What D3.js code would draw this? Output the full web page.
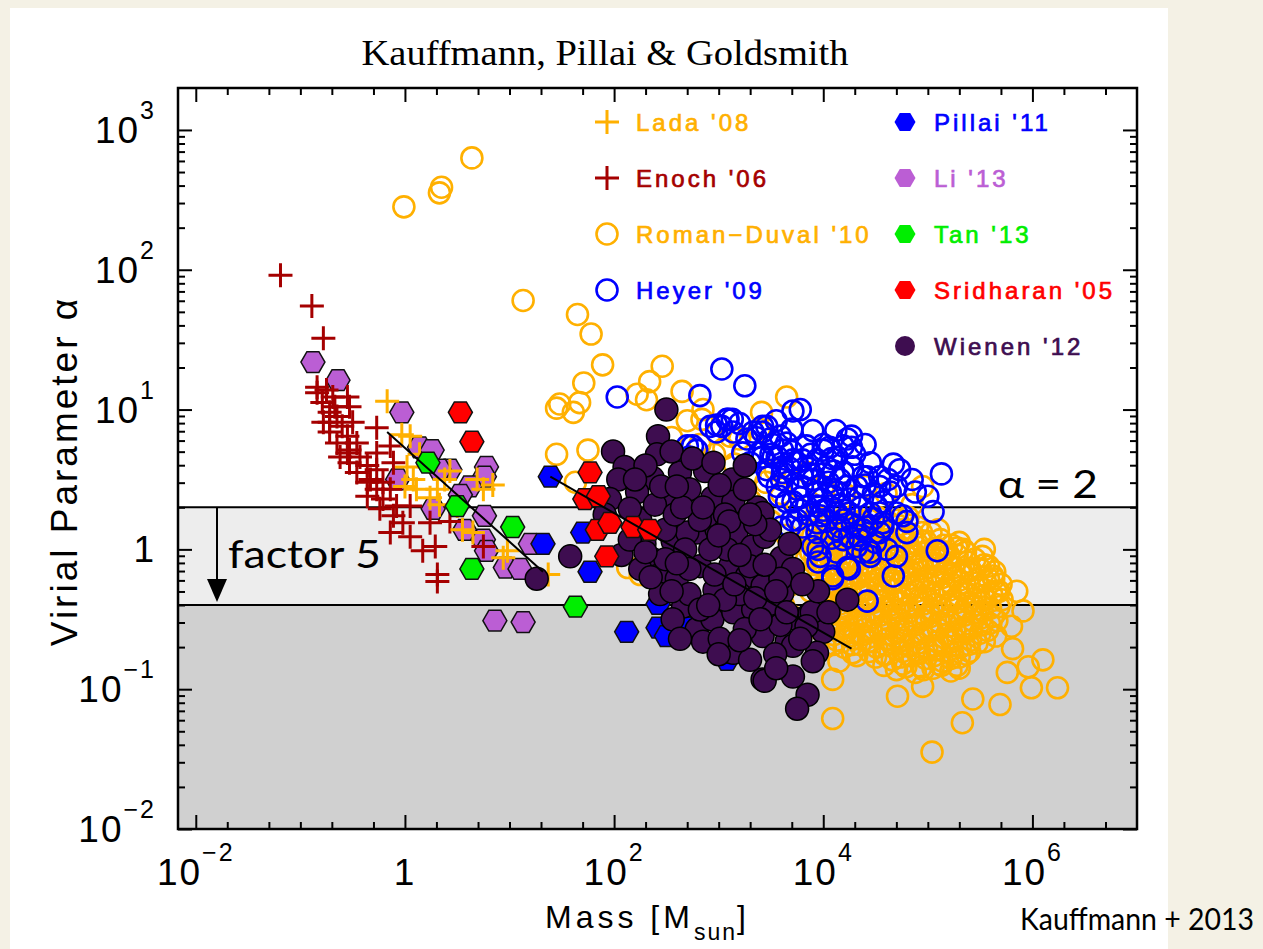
<!DOCTYPE html>
<html lang="en">
<head>
<meta charset="utf-8">
<title>Virial parameter vs mass</title>
<script src="https://d3js.org/d3.v7.min.js"></script>
<style>
  body { margin: 0; background: #f4f1e5; }
  svg { display: block; }
</style>
</head>
<body>
<svg id="chart" width="1263" height="949"></svg>
<script>
// all points are [log10 mass, log10 alpha]

const romanDuval = [
  [-0.01,2.45],[0.33,2.55],[0.35,2.59],[0.64,2.80],[1.13,1.78],[1.65,1.68],[1.78,1.54],[1.89,1.32],
  [1.71,1.19],[2.46,1.31],[2.34,1.20],[2.65,1.13],[1.48,1.04],[1.67,1.05],[2.22,1.11],[2.31,1.07],
  [1.45,1.01],[1.61,0.98],[1.45,0.68],[1.63,0.48],[1.75,0.71],[3.65,1.09],[3.41,0.98],[2.84,0.93],
  [2.85,1.00],[3.11,0.81],[2.63,0.31],[2.13,-0.13],[2.25,-0.18],[2.82,0.75],[2.96,0.68],[3.20,0.79],
  [3.39,0.86],[3.54,0.57],[3.30,0.54],[3.15,0.61],[2.55,0.80],[2.70,0.92],[3.05,0.72],[3.45,0.48],
  [3.60,0.40],[3.75,0.30],[3.30,0.35],[3.50,0.20],[3.65,0.10],[3.80,-0.05],[3.70,-0.25],[3.62,-0.40],
  [3.80,-0.35],[3.85,-0.20],[3.90,0.10],[4.60,0.40],[4.85,0.32],[4.40,0.45],[4.20,0.40],[4.00,0.45],
  [3.85,0.55],[4.95,0.45],
  [3.95,0.23],[4.12,0.20],[4.29,0.24],[4.44,0.21],[4.63,0.19],[4.81,0.23],
  [4.03,0.21],[4.20,0.22],[4.36,0.20],[4.52,0.23],[4.71,0.21],
  [4.04,0.17],[4.20,0.16],[4.37,0.18],[4.54,0.15],[4.72,0.17],[4.90,0.16],
  [3.95,0.14],[4.11,0.12],[4.27,0.15],[4.43,0.13],[4.59,0.11],[4.76,0.14],[4.94,0.12],[5.10,0.14],
  [3.87,0.12],[4.03,0.10],[4.19,0.13],[4.35,0.11],[4.51,0.09],[4.67,0.13],[4.86,0.10],[5.03,0.12],
  [3.96,0.07],[4.12,0.08],[4.28,0.06],[4.44,0.08],[4.60,0.07],[4.77,0.09],[4.94,0.06],[5.12,0.07],
  [4.00,0.05],[4.16,0.06],[4.32,0.03],[4.49,0.05],[4.64,0.07],[4.81,0.04],[4.98,0.06],[5.15,0.03],[5.30,0.05],
  [3.92,0.02],[4.08,0.04],[4.24,0.01],[4.41,0.03],[4.56,0.05],[4.73,0.02],[4.90,0.04],[5.07,0.01],[5.23,0.03],
  [3.88,-0.02],[4.04,-0.01],[4.20,-0.03],[4.36,-0.01],[4.52,-0.02],[4.68,0.00],[4.85,-0.03],[5.01,-0.01],
  [5.17,-0.02],[5.34,0.00],
  [3.92,-0.05],[4.08,-0.03],[4.24,-0.06],[4.39,-0.04],[4.55,-0.02],[4.71,-0.05],[4.87,-0.03],[5.03,-0.06],
  [5.20,-0.04],[5.36,-0.02],[5.52,-0.05],
  [3.84,-0.07],[4.00,-0.05],[4.16,-0.08],[4.31,-0.06],[4.47,-0.04],[4.63,-0.07],[4.79,-0.05],[4.95,-0.08],
  [5.12,-0.06],[5.28,-0.04],[5.45,-0.07],
  [3.93,-0.11],[4.09,-0.10],[4.25,-0.12],[4.41,-0.10],[4.57,-0.11],[4.73,-0.09],[4.89,-0.12],[5.05,-0.10],
  [5.21,-0.11],[5.38,-0.09],[5.54,-0.11],
  [3.98,-0.12],[4.14,-0.14],[4.29,-0.11],[4.45,-0.13],[4.60,-0.15],[4.77,-0.12],[4.92,-0.14],[5.08,-0.11],
  [5.25,-0.13],[5.41,-0.15],[5.58,-0.12],
  [3.90,-0.14],[4.06,-0.16],[4.21,-0.13],[4.37,-0.15],[4.52,-0.17],[4.69,-0.14],[4.84,-0.16],[5.00,-0.13],
  [5.17,-0.15],[5.33,-0.17],[5.50,-0.14],[5.64,-0.16],
  [3.98,-0.20],[4.14,-0.19],[4.30,-0.21],[4.46,-0.19],[4.62,-0.20],[4.78,-0.18],[4.94,-0.21],[5.10,-0.19],
  [5.26,-0.20],[5.42,-0.18],[5.58,-0.21],
  [4.04,-0.21],[4.19,-0.23],[4.35,-0.20],[4.51,-0.22],[4.67,-0.24],[4.82,-0.21],[4.98,-0.23],[5.14,-0.20],
  [5.30,-0.22],[5.47,-0.24],[5.63,-0.21],
  [3.96,-0.23],[4.11,-0.25],[4.27,-0.22],[4.43,-0.24],[4.59,-0.26],[4.74,-0.23],[4.90,-0.25],[5.06,-0.22],
  [5.22,-0.24],[5.39,-0.26],[5.55,-0.23],[5.70,-0.25],
  [3.96,-0.28],[4.10,-0.30],[4.26,-0.32],[4.42,-0.29],[4.58,-0.31],[4.74,-0.33],[4.89,-0.30],[5.05,-0.32],
  [5.21,-0.29],[5.37,-0.31],[5.53,-0.33],[5.68,-0.30],
  [4.05,-0.29],[4.21,-0.28],[4.37,-0.30],[4.53,-0.28],[4.69,-0.29],[4.85,-0.27],[5.01,-0.30],[5.17,-0.28],
  [5.33,-0.29],[5.49,-0.27],[5.65,-0.30],
  [3.88,-0.30],[4.02,-0.32],[4.18,-0.34],[4.34,-0.31],[4.50,-0.33],[4.66,-0.35],[4.81,-0.32],[4.97,-0.34],
  [5.13,-0.31],[5.29,-0.33],[5.45,-0.35],[5.61,-0.32],
  [4.11,-0.38],[4.27,-0.37],[4.43,-0.39],[4.59,-0.37],[4.75,-0.38],[4.91,-0.36],[5.07,-0.39],[5.23,-0.37],
  [5.39,-0.38],[5.55,-0.36],
  [4.00,-0.43],[4.16,-0.39],[4.32,-0.41],[4.48,-0.38],[4.64,-0.40],[4.80,-0.42],[4.96,-0.39],[5.12,-0.41],
  [5.28,-0.38],[5.44,-0.40],[5.60,-0.42],
  [3.92,-0.45],[4.08,-0.41],[4.24,-0.43],[4.40,-0.40],[4.56,-0.42],[4.72,-0.44],[4.88,-0.41],[5.04,-0.43],
  [5.20,-0.40],[5.36,-0.42],[5.52,-0.44],[5.68,-0.41],
  [4.02,-0.47],[4.18,-0.46],[4.34,-0.48],[4.50,-0.46],[4.66,-0.47],[4.82,-0.45],[4.98,-0.48],[5.14,-0.46],
  [5.30,-0.47],[5.46,-0.45],[5.62,-0.48],
  [4.06,-0.54],[4.23,-0.48],[4.39,-0.50],[4.55,-0.47],[4.71,-0.49],[4.87,-0.51],[5.03,-0.48],[5.19,-0.50],
  [5.35,-0.47],[5.51,-0.49],[5.66,-0.51],
  [3.98,-0.58],[4.15,-0.50],[4.31,-0.52],[4.47,-0.49],[4.63,-0.51],[4.79,-0.53],[4.95,-0.50],[5.11,-0.52],
  [5.27,-0.49],[5.43,-0.51],[5.59,-0.53],
  [4.07,-0.56],[4.24,-0.55],[4.40,-0.57],[4.56,-0.55],[4.72,-0.56],[4.88,-0.54],[5.04,-0.57],[5.20,-0.55],
  [5.36,-0.56],[5.52,-0.54],
  [4.16,-0.57],[4.30,-0.60],[4.46,-0.59],[4.62,-0.56],[4.78,-0.58],[4.94,-0.60],[5.10,-0.57],[5.26,-0.59],
  [5.42,-0.56],[5.57,-0.58],
  [4.10,-0.61],[4.22,-0.59],[4.38,-0.61],[4.54,-0.58],[4.70,-0.60],[4.86,-0.62],[5.02,-0.59],[5.18,-0.61],
  [5.34,-0.58],[5.50,-0.60],
  [4.13,-0.65],[4.29,-0.64],[4.45,-0.66],[4.61,-0.64],[4.77,-0.65],[4.93,-0.63],[5.09,-0.66],[5.25,-0.64],
  [5.41,-0.65],
  [4.10,-0.68],[4.28,-0.68],[4.43,-0.66],[4.59,-0.68],[4.75,-0.65],[4.91,-0.67],[5.07,-0.69],[5.23,-0.66],
  [5.39,-0.68],[5.54,-0.66],
  [4.02,-0.70],[4.20,-0.70],[4.35,-0.68],[4.51,-0.70],[4.67,-0.67],[4.83,-0.69],[4.99,-0.71],[5.15,-0.68],
  [5.31,-0.70],[5.47,-0.67],
  [4.28,-0.74],[4.44,-0.73],[4.60,-0.75],[4.76,-0.73],[4.92,-0.74],[5.08,-0.72],[5.24,-0.75],[5.40,-0.73],
  [4.58,-0.75],[4.74,-0.77],[4.90,-0.74],[5.06,-0.76],[5.22,-0.78],[5.37,-0.75],
  [4.15,-0.80],[4.50,-0.77],[4.66,-0.79],[4.82,-0.76],[4.98,-0.78],[5.14,-0.80],[5.30,-0.77],
  [4.58,-0.83],[4.76,-0.82],[4.94,-0.84],[5.11,-0.82],[5.28,-0.83],
  [4.79,-0.84],[4.96,-0.86],[5.13,-0.83],[5.30,-0.85],
  [4.70,-0.86],[4.88,-0.88],[5.05,-0.85],[5.22,-0.87],
  [4.32,-0.76],[4.09,-0.93],[4.09,-1.21],[4.71,-1.05],[4.95,-0.98],[5.04,-1.45],[5.33,-1.24],[5.43,-1.07],
  [5.69,-1.11],[5.81,-0.71],[5.96,-0.84],[5.99,-0.99],[5.76,-0.88],[5.62,-0.19],[5.71,-0.36],[5.28,0.01],
  [5.14,-0.02],[6.24,-0.99],[6.10,-0.79],[5.91,-0.44],[5.54,0.00],[5.80,-0.55],[5.65,-0.62],[5.85,-0.30]
];

const heyer = [
  [2.03,1.09],[2.82,1.10],[3.03,1.29],[3.25,1.17],[3.71,0.99],[3.78,1.00],[3.09,0.93],[2.98,0.89],
  [2.75,0.74],[4.27,0.81],[4.27,0.73],[4.67,0.61],[4.73,0.57],[5.13,0.54],[4.88,0.41],[4.64,0.41],
  [5.05,0.27],[4.80,0.20],[4.80,0.12],[4.70,-0.05],[4.67,-0.19],[5.09,-0.01],[3.95,0.00],[3.95,-0.09],
  [4.09,-0.21],[4.23,-0.13],[4.38,-0.02],[4.42,-0.37],[4.45,-0.02],[4.35,0.07],[3.70,0.21],[3.80,0.16],
  [3.60,0.16],[4.13,0.26],[4.54,0.26],[4.57,0.19],
  [3.03,0.88],[3.13,0.93],[2.98,0.84],[3.33,0.84],[3.42,0.88],[3.27,0.79],[3.49,0.79],[3.65,0.76],
  [3.84,0.74],[4.06,0.73],[3.39,0.69],[3.56,0.66],[3.71,0.64],[3.94,0.64],[4.13,0.66],[3.46,0.57],
  [3.61,0.55],[3.80,0.52],[4.00,0.54],[4.19,0.55],[4.42,0.52],[3.56,0.45],[3.75,0.43],[3.94,0.41],
  [4.13,0.41],[4.32,0.45],[4.54,0.45],[3.65,0.34],[3.84,0.31],[4.06,0.31],[4.25,0.26],[4.45,0.26],
  [4.57,0.34],[3.75,0.21],[3.94,0.19],[4.13,0.14],[4.38,0.14],[4.57,0.16],[4.76,0.24],[2.79,0.71],
  [2.72,0.66],[2.92,0.88],[3.61,0.71],
  [3.46,0.88],[3.59,0.81],[4.00,0.75],[4.19,0.74],[3.52,0.66],[3.75,0.62],[4.03,0.59],[4.28,0.59],
  [4.54,0.52],[3.60,0.50],[3.80,0.45],[4.09,0.43],[4.35,0.38],[4.51,0.31],[4.70,0.26],[3.71,0.34],
  [3.94,0.31],[4.19,0.21],[4.42,0.16],[4.54,0.12],[3.68,0.16],[3.94,0.12],[4.19,0.07],[4.32,0.02],
  [4.45,-0.05],[4.13,-0.02],[4.25,-0.14],[4.61,0.00],
  [2.70,0.74],[3.08,0.93],[3.14,0.84],[3.42,0.84],[3.23,0.69],[3.42,0.66],[3.61,0.59],[3.80,0.64],
  [4.00,0.71],[4.23,0.79],[3.94,0.45],[4.16,0.50],[4.25,0.36],[3.97,0.24],[4.16,0.16],[3.90,0.02],
  [3.97,-0.05],[4.25,0.09],[4.09,-0.19],
  [3.36,0.80],[3.52,0.75],[3.70,0.70],[3.88,0.68],[4.08,0.65],[3.30,0.62],[3.48,0.52],[3.66,0.48],
  [3.86,0.58],[4.05,0.48],[4.22,0.45],[4.40,0.46],[3.58,0.38],[3.78,0.37],[3.99,0.36],[4.16,0.32],
  [4.36,0.30],[4.48,0.40],[3.86,0.25],[4.03,0.20],[4.28,0.18],[4.48,0.22],[4.08,0.08],[4.33,0.10],
  [4.50,0.05],[3.90,0.50],[4.30,0.68],[4.45,0.62],[4.62,0.50],[4.70,0.45],[3.20,0.90],[3.55,0.92],
  [3.90,0.85],[4.12,0.85],[4.40,0.75],[4.85,0.50],[5.00,0.38],
  [3.68,0.58],[3.88,0.54],[4.10,0.56],[3.78,0.28],[4.00,0.28],[4.20,0.28],[3.50,0.68],[3.70,0.86],
  [4.10,0.38],[4.38,0.52]
];

const pillai = [
  [1.39,0.52],[1.32,0.04],[1.70,0.12],[1.77,-0.16],[2.12,-0.59],[2.42,-0.39],[2.42,-0.56],[2.50,-0.62],
  [3.08,-0.79],[3.03,-0.74],[2.72,-0.56]
];

const li = [
  [-0.88,1.34],[-0.64,1.21],[-0.03,0.98],[0.14,0.73],[0.26,0.71],[0.43,0.57],[0.78,0.59],[0.76,0.52],
  [-0.07,0.50],[0.62,0.45],[0.27,0.29],[0.76,0.24],[0.57,0.14],[0.75,0.07],[0.78,-0.01],[1.20,0.04],
  [0.96,-0.13],[1.10,-0.14],[0.86,-0.51],[1.13,-0.52],[0.33,0.57],[0.53,0.39]
];

const enoch = [
  [-1.19,1.96],[-0.89,1.74],[-0.78,1.51],[-0.84,1.16],[-0.75,1.14],[-0.55,1.09],[-0.79,1.05],[-0.67,1.02],
  [-0.53,1.02],[-0.72,0.98],[-0.78,0.91],[-0.65,0.95],[-0.60,0.88],[-0.72,0.84],[-0.55,0.81],[-0.65,0.76],
  [-0.46,0.76],[-0.27,0.87],[-0.55,0.69],[-0.43,0.66],[-0.53,0.62],[-0.36,0.60],[-0.27,0.69],[-0.11,0.62],
  [-0.46,0.55],[-0.33,0.50],[-0.21,0.48],[-0.27,0.43],[-0.36,0.38],[-0.21,0.36],[-0.14,0.43],[0.05,0.31],
  [-0.24,0.29],[-0.11,0.24],[-0.02,0.19],[0.24,0.19],[-0.14,0.12],[0.05,0.09],[0.29,0.02],[0.17,-0.01],
  [0.31,-0.18],[0.31,-0.23],[0.75,0.02],[0.43,0.20],[-0.53,0.71],[-0.69,1.09],[-0.62,0.66],[-0.14,0.74],
  [-0.50,0.91],[-0.36,0.48],[-0.08,0.31],[-0.27,0.57],[-0.72,0.91],[-0.84,1.12]
];

const lada = [
  [-0.17,1.06],[-0.03,0.82],[0.05,0.81],[0.02,0.59],[0.08,0.50],[0.00,0.45],[0.11,0.43],[0.24,0.37],
  [0.31,0.43],[0.38,0.50],[0.43,0.56],[0.50,0.31],[0.55,0.14],[0.65,0.12],[0.75,0.43],[0.84,0.46],
  [0.69,0.50],[0.98,-0.01],[0.94,-0.06],[1.37,-0.18],[0.14,0.68],[0.33,0.32]
];

const tan = [[0.22,0.62],[0.50,0.31],[1.03,0.16],[0.64,-0.14],[1.63,-0.41]];

const wienen = [
  [2.50,1.00],[2.42,0.81],[2.41,0.68],[1.99,0.70],[2.10,0.59],[2.04,0.50],[2.37,0.51],[2.63,0.55],
  [2.87,0.56],[3.13,0.50],[2.22,0.41],[2.53,0.36],[2.94,0.37],[3.14,0.34],[3.37,0.30],[1.58,-0.05],
  [1.26,-0.21],[2.07,-0.04],[2.37,-0.07],[2.56,0.06],[2.79,0.12],[2.98,0.14],[3.17,0.12],[3.32,0.02],
  [3.60,-0.06],[3.71,-0.14],[2.41,-0.19],[2.60,-0.21],[2.82,-0.12],[3.11,-0.12],[3.27,-0.19],[3.42,-0.26],
  [3.61,-0.31],[2.66,-0.41],[2.56,-0.50],[2.79,-0.57],[2.94,-0.50],[3.14,-0.45],[3.33,-0.43],[3.52,-0.49],
  [3.75,-0.50],[3.87,-0.46],[4.00,-0.59],[3.94,-0.74],[3.65,-0.66],[3.42,-0.62],[3.14,-0.74],[2.85,-0.66],
  [3.42,-0.93],[3.71,-0.91],[3.85,-1.04],[3.75,-1.14],[4.23,-0.36],
  [3.42,0.26],[3.44,0.09],[3.59,-0.21],[3.89,-0.45],[3.84,-0.55],[3.71,-0.69],[3.44,-0.94],
  [2.89,0.24],[2.70,0.12],[3.08,0.00],[3.30,-0.12],
  [2.25,0.21],[2.39,0.32],[2.72,0.43],[3.01,0.46],[3.25,0.43],[2.49,0.14],[2.68,0.00],[2.92,0.00],
  [3.20,-0.04],[3.44,-0.11],[2.44,-0.32],[2.72,-0.32],[2.96,-0.29],[3.20,-0.32],[3.49,-0.39],[3.01,-0.64],
  [3.25,-0.57],[3.59,-0.54],[2.82,-0.43],[2.29,0.04],[2.25,-0.14],[2.15,0.07],[1.96,0.36],[1.91,0.25],
  [2.15,0.29],[3.78,-0.64],[3.54,-0.75],[3.30,-0.79],[2.63,-0.64],[3.49,0.14],[3.68,0.04],[3.35,0.18],
  [2.82,0.21],[3.06,0.25],[2.58,0.25],[2.49,-0.07],[3.06,-0.36],[2.72,-0.14],[2.96,-0.18],
  [2.30,0.60],[2.55,0.70],[2.75,0.65],[2.95,0.62],[3.25,0.60],[2.45,0.45],[2.65,0.30],[2.85,0.30],
  [3.10,0.20],[3.30,0.25],[2.35,-0.20],[2.55,-0.30],[2.90,-0.40],[3.15,-0.25],[3.35,-0.35],[3.55,-0.30],
  [3.65,-0.45],[3.40,-0.50],[3.20,-0.65],[3.00,-0.75],[3.55,-0.85],[3.90,-0.80],[3.95,-0.30],[2.60,0.45],
  [2.20,0.50],[2.30,-0.02],[2.60,-0.10],[3.00,0.10],[3.80,-0.25],[4.05,-0.45]
];

const sridharan = [
  [0.53,0.98],[0.64,0.77],[1.77,0.55],[1.72,0.36],[1.85,0.38],[1.84,0.14],[1.96,0.19],[2.18,0.16],
  [2.34,0.14],[1.93,-0.05]
];

// fitted relations drawn as black lines
const fitSmall = [[-0.17,0.84],[1.32,-0.16]];
const fitLarge = [[1.39,0.52],[4.27,-0.71]];

const alphaLevels = [2, 0.4];

const legendNames = ["Lada '08", "Enoch '06", "Roman\u2212Duval '10", "Heyer '09",
                     "Pillai '11", "Li '13", "Tan '13", "Sridharan '05", "Wienen '12"];

const xMajor = [1e-2, 1, 1e2, 1e4, 1e6];
const xLabels = [["10", "\u22122"], ["1", ""], ["10", "2"], ["10", "4"], ["10", "6"]];
const yMajor = [1e-2, 1e-1, 1, 1e1, 1e2, 1e3];
const yLabels = [["10", "\u22122"], ["10", "\u22121"], ["1", ""], ["10", "1"], ["10", "2"], ["10", "3"]];

// ---------------------------------------------------------------

const col = {
  orange: "#ffb000", darkred: "#a50000", blue: "#0000ff", orchid: "#bb5ed4",
  green: "#00ee00", red: "#ff0000", purple: "#3e0d50"
};

const svg = d3.select("#chart");
const L = 178, R = 1137, T = 88, B = 829;

const x = d3.scaleLog().domain([Math.pow(10, -2.17), 1e7]).range([L, R]);
const y = d3.scaleLog().domain([0.01, Math.pow(10, 3.3)]).range([B, T]);

const toPts = arr => arr.map(d => ({ m: Math.pow(10, d[0]), a: Math.pow(10, d[1]) }));

svg.append("rect").attr("width", 1263).attr("height", 949).attr("fill", "#f4f1e5");
svg.append("rect").attr("x", 10).attr("y", 8).attr("width", 1158).attr("height", 941).attr("fill", "#fff");

svg.append("defs").append("clipPath").attr("id", "plotclip")
  .append("rect").attr("x", L).attr("y", T).attr("width", R - L).attr("height", B - T);

const plot = svg.append("g").attr("clip-path", "url(#plotclip)");

// shaded bands
plot.append("rect").attr("x", L).attr("width", R - L)
  .attr("y", y(alphaLevels[0])).attr("height", y(alphaLevels[1]) - y(alphaLevels[0]))
  .attr("fill", "#ededed");
plot.append("rect").attr("x", L).attr("width", R - L)
  .attr("y", y(alphaLevels[1])).attr("height", B - y(alphaLevels[1]))
  .attr("fill", "#d0d0d0");

plot.selectAll(".level").data(alphaLevels).enter().append("line")
  .attr("x1", L).attr("x2", R)
  .attr("y1", d => y(d)).attr("y2", d => y(d))
  .attr("stroke", "#000").attr("stroke-width", 2);

const hexPath = r => {
  const h = r * Math.sqrt(3) / 2;
  return `M${r},0L${r / 2},${h}L${-r / 2},${h}L${-r},0L${-r / 2},${-h}L${r / 2},${-h}Z`;
};
const plusPath = s => `M${-s},0H${s}M0,${-s}V${s}`;

function openCircles(data, color) {
  plot.append("g").selectAll("circle").data(toPts(data)).enter().append("circle")
    .attr("cx", d => x(d.m)).attr("cy", d => y(d.a)).attr("r", 10.5)
    .attr("fill", "none").attr("stroke", color).attr("stroke-width", 2.6);
}
function pluses(data, color) {
  plot.append("g").selectAll("path").data(toPts(data)).enter().append("path")
    .attr("transform", d => `translate(${x(d.m)},${y(d.a)})`)
    .attr("d", plusPath(12)).attr("stroke", color).attr("stroke-width", 3).attr("fill", "none");
}
function hexes(data, color) {
  plot.append("g").selectAll("path").data(toPts(data)).enter().append("path")
    .attr("transform", d => `translate(${x(d.m)},${y(d.a)})`)
    .attr("d", hexPath(12)).attr("fill", color).attr("stroke", "#111").attr("stroke-width", 1.5);
}
function dots(data, color) {
  plot.append("g").selectAll("circle").data(toPts(data)).enter().append("circle")
    .attr("cx", d => x(d.m)).attr("cy", d => y(d.a)).attr("r", 11.5)
    .attr("fill", color).attr("stroke", "#000").attr("stroke-width", 1.5);
}

openCircles(romanDuval, col.orange);
openCircles(heyer, col.blue);
hexes(li, col.orchid);
pluses(enoch, col.darkred);
pluses(lada, col.orange);
hexes(pillai, col.blue);
hexes(tan, col.green);
dots(wienen, col.purple);
hexes(sridharan, col.red);

const line = d3.line().x(d => x(Math.pow(10, d[0]))).y(d => y(Math.pow(10, d[1])));
[fitSmall, fitLarge].forEach(f => {
  plot.append("path").attr("d", line(f)).attr("stroke", "#000").attr("stroke-width", 2).attr("fill", "none");
});

// axes: inward ticks on all four sides
const minorX = [];
for (let e = -3; e <= 6; e++) {
  [2, 5].forEach(k => minorX.push(k * Math.pow(10, e)));
  if (e % 2 !== 0) minorX.push(Math.pow(10, e));
}
const xMin = minorX.filter(v => v > x.domain()[0] && v < x.domain()[1]);
const yMin = [];
for (let e = -2; e <= 3; e++) for (let k = 2; k <= 9; k++) yMin.push(k * Math.pow(10, e));
const yMinor = yMin.filter(v => v < y.domain()[1]);

function tickGroup(axis, transform) {
  const g = svg.append("g").attr("transform", transform).call(axis);
  g.select(".domain").remove();
  g.selectAll("line").attr("stroke", "#000").attr("stroke-width", 2);
  g.selectAll("text").remove();
}
tickGroup(d3.axisBottom(x).tickValues(xMajor).tickSize(-14).tickFormat(""), `translate(0,${B})`);
tickGroup(d3.axisBottom(x).tickValues(xMin).tickSize(-7).tickFormat(""), `translate(0,${B})`);
tickGroup(d3.axisTop(x).tickValues(xMajor).tickSize(-14).tickFormat(""), `translate(0,${T})`);
tickGroup(d3.axisTop(x).tickValues(xMin).tickSize(-7).tickFormat(""), `translate(0,${T})`);
tickGroup(d3.axisLeft(y).tickValues(yMajor).tickSize(-14).tickFormat(""), `translate(${L},0)`);
tickGroup(d3.axisLeft(y).tickValues(yMinor).tickSize(-7).tickFormat(""), `translate(${L},0)`);
tickGroup(d3.axisRight(y).tickValues(yMajor).tickSize(-14).tickFormat(""), `translate(${R},0)`);
tickGroup(d3.axisRight(y).tickValues(yMinor).tickSize(-7).tickFormat(""), `translate(${R},0)`);

svg.append("rect").attr("x", L).attr("y", T).attr("width", R - L).attr("height", B - T)
  .attr("fill", "none").attr("stroke", "#000").attr("stroke-width", 2.5);

const sans = "'Liberation Sans', Arial, Helvetica, sans-serif";

function powLabel(g, lab, px, py, anchor) {
  const t = g.append("text").attr("x", px).attr("y", py).attr("text-anchor", anchor)
    .attr("font-family", sans).attr("font-size", 37).attr("letter-spacing", 2).attr("fill", "#000");
  t.append("tspan").text(lab[0]);
  if (lab[1]) t.append("tspan").attr("dy", -24).attr("font-size", 25).text(lab[1]);
}
const labs = svg.append("g");
xMajor.forEach((v, i) => powLabel(labs, xLabels[i], x(v), 885, "middle"));
yMajor.forEach((v, i) => powLabel(labs, yLabels[i], 156, y(v) + 13, "end"));

svg.append("text").attr("transform", "translate(77,471) rotate(-90)")
  .attr("text-anchor", "middle").attr("font-family", sans).attr("font-size", 37)
  .attr("letter-spacing", 3).text("Virial Parameter \u03b1");

const xt = svg.append("text").attr("x", 545).attr("y", 928)
  .attr("font-family", sans).attr("font-size", 32).attr("letter-spacing", 4)
  .attr("xml:space", "preserve");
xt.append("tspan").text("Mass [M");
xt.append("tspan").attr("dy", 12).attr("font-size", 23).attr("letter-spacing", 2).text("sun");
xt.append("tspan").attr("dy", -12).text("]");

svg.append("text").attr("x", 605).attr("y", 65).attr("text-anchor", "middle")
  .attr("font-family", "'Liberation Serif', 'DejaVu Serif', serif").attr("font-size", 35)
  .attr("textLength", 487).attr("lengthAdjust", "spacingAndGlyphs")
  .text("Kauffmann, Pillai & Goldsmith");

// legend
const legendKinds = ["plus", "plus", "ring", "ring", "hex", "hex", "hex", "hex", "dot"];
const legendColors = [col.orange, col.darkred, col.orange, col.blue, col.blue, col.orchid, col.green, col.red, col.purple];
const leg = svg.append("g");
legendNames.forEach((name, i) => {
  const c = i < 4 ? 0 : 1, r = i < 4 ? i : i - 4;
  const mx = c === 0 ? 607 : 905, my = 122 + r * 56;
  const k = legendKinds[i], color = legendColors[i];
  if (k === "plus") leg.append("path").attr("transform", `translate(${mx},${my})`).attr("d", plusPath(12))
    .attr("stroke", color).attr("stroke-width", 3);
  if (k === "ring") leg.append("circle").attr("cx", mx).attr("cy", my).attr("r", 10.5)
    .attr("fill", "none").attr("stroke", color).attr("stroke-width", 2.6);
  if (k === "hex") leg.append("path").attr("transform", `translate(${mx},${my})`).attr("d", hexPath(10.5))
    .attr("fill", color);
  if (k === "dot") leg.append("circle").attr("cx", mx).attr("cy", my).attr("r", 10).attr("fill", color);
  leg.append("text").attr("x", mx + 29).attr("y", my + 9).attr("fill", color)
    .attr("stroke", color).attr("stroke-width", 0.7)
    .attr("font-family", sans).attr("font-size", 24)
    .attr("letter-spacing", 3).attr("xml:space", "preserve").text(name);
});

// annotations
const cal = "Lato, 'Open Sans', sans-serif";
svg.append("text").attr("x", 998).attr("y", 498).attr("font-family", cal).attr("font-size", 38)
  .attr("textLength", 100).attr("lengthAdjust", "spacingAndGlyphs").text("\u03b1 = 2");
svg.append("text").attr("x", 228).attr("y", 568).attr("font-family", cal).attr("font-size", 38)
  .attr("textLength", 153).attr("lengthAdjust", "spacingAndGlyphs").text("factor 5");

const ax = 217;
svg.append("line").attr("x1", ax).attr("x2", ax).attr("y1", y(alphaLevels[0])).attr("y2", y(alphaLevels[1]) - 18)
  .attr("stroke", "#000").attr("stroke-width", 2);
svg.append("path")
  .attr("d", `M${ax - 10},${y(alphaLevels[1]) - 26}L${ax + 10},${y(alphaLevels[1]) - 26}L${ax},${y(alphaLevels[1]) - 3}Z`)
  .attr("fill", "#000");

svg.append("text").attr("x", 1020).attr("y", 930).attr("font-family", cal).attr("font-size", 30)
  .attr("textLength", 234).attr("lengthAdjust", "spacingAndGlyphs").text("Kauffmann + 2013");
</script>
</body>
</html>
